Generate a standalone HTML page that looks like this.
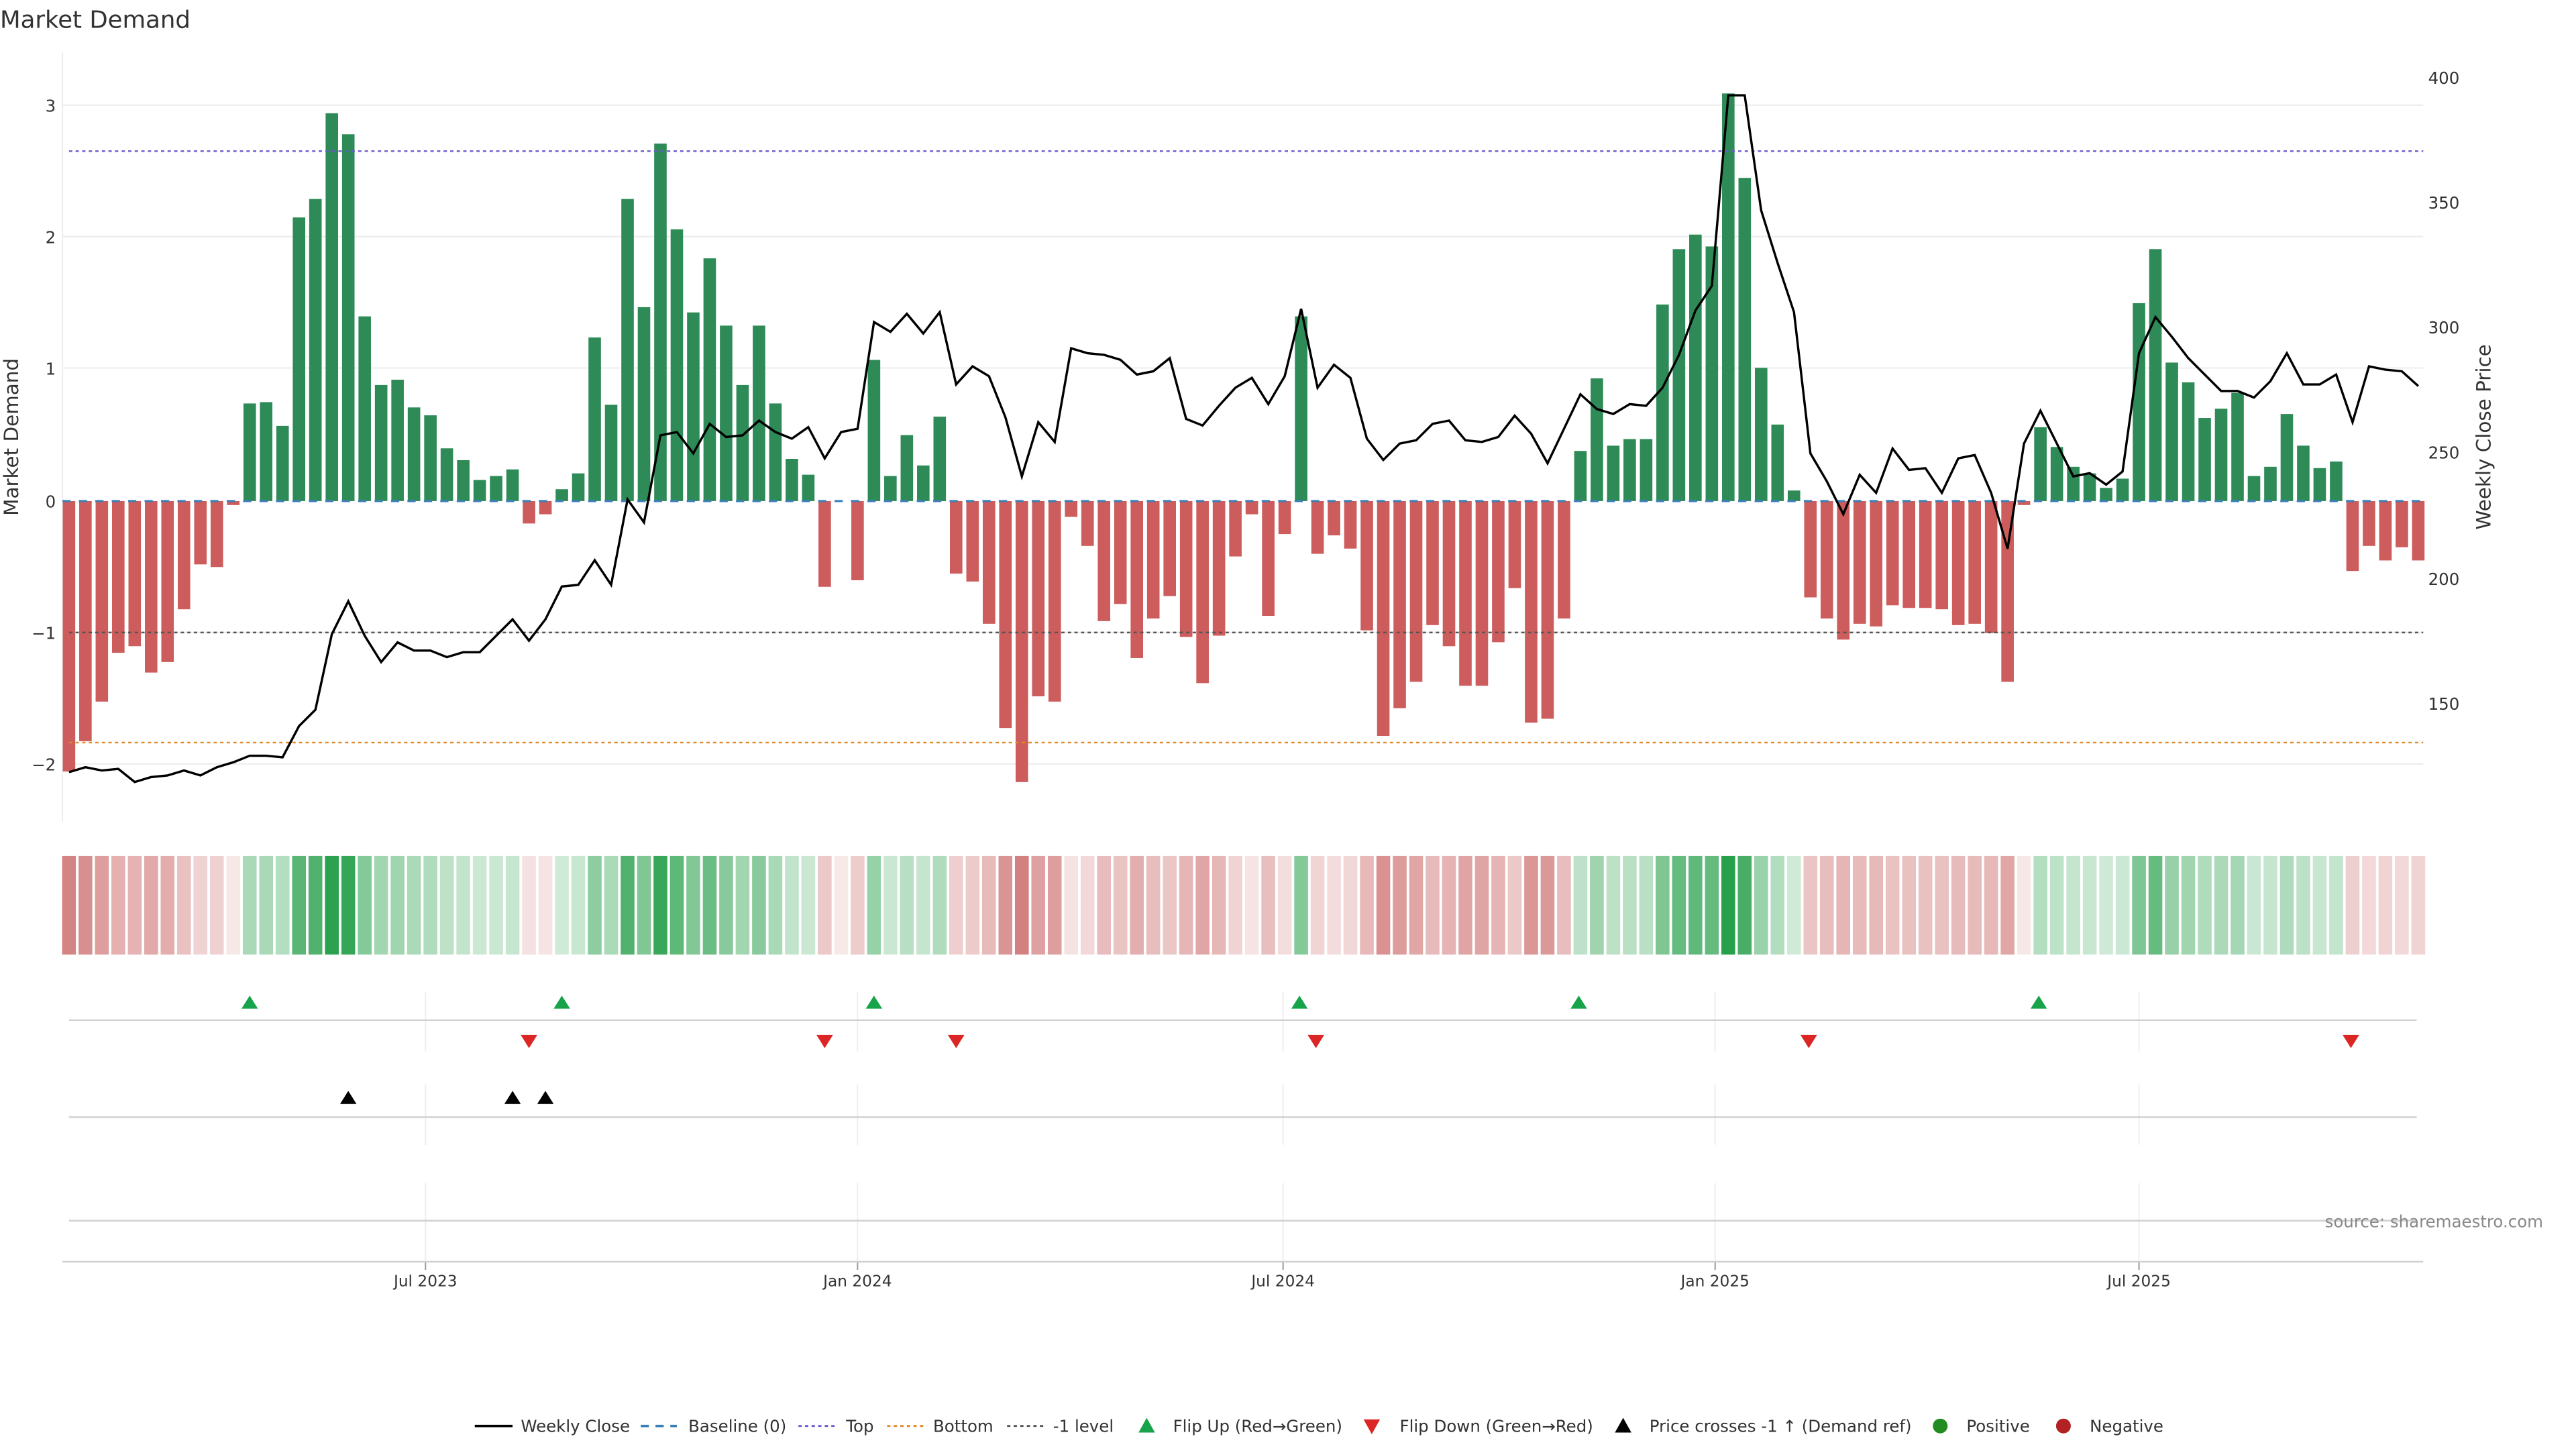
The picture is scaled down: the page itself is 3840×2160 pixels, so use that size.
<!DOCTYPE html>
<html><head><meta charset="utf-8"><style>
html,body{margin:0;padding:0;background:#fff;}
svg{display:block;font-family:"DejaVu Sans","Liberation Sans",sans-serif;}
</style></head><body>
<svg id="s" width="3840" height="2160" viewBox="0 0 1568 882" xmlns="http://www.w3.org/2000/svg">
<rect width="1568" height="882" fill="#fff"/>
<text x="0" y="17" font-size="14.5" fill="#333">Market Demand</text>
<g id="grid" stroke="#ececec" stroke-width="0.8">
<line x1="38" x2="1475" y1="64" y2="64"/><line x1="38" x2="1475" y1="144" y2="144"/>
<line x1="38" x2="1475" y1="224" y2="224"/><line x1="38" x2="1475" y1="385" y2="385"/>
<line x1="38" x2="1475" y1="465" y2="465"/>
</g>
<line x1="38" x2="38" y1="32" y2="500" stroke="#eee" stroke-width="0.8"/>
<g font-size="10" fill="#333" text-anchor="end">
<text x="34" y="68">3</text><text x="34" y="148">2</text><text x="34" y="228">1</text>
<text x="34" y="309">0</text><text x="34" y="389">−1</text><text x="34" y="469">−2</text>
</g>
<g font-size="10" fill="#333">
<text x="1478" y="51">400</text><text x="1478" y="127">350</text><text x="1478" y="203">300</text>
<text x="1478" y="279">250</text><text x="1478" y="356">200</text><text x="1478" y="432">150</text>
</g>
<text transform="translate(11,266) rotate(-90)" font-size="12" fill="#333" text-anchor="middle">Market Demand</text>
<text transform="translate(1516,266) rotate(-90)" font-size="12" fill="#333" text-anchor="middle">Weekly Close Price</text>
<g id="bars"></g>
<line x1="38" x2="1475" y1="305" y2="305" stroke="#3a7fb8" stroke-width="1.3" stroke-dasharray="5,5"/>
<line x1="42" x2="1475" y1="92" y2="92" stroke="#6a5acd" stroke-width="1" stroke-dasharray="2,2"/>
<line x1="42" x2="1475" y1="452" y2="452" stroke="#e08a2c" stroke-width="1" stroke-dasharray="2,2"/>
<line x1="42" x2="1475" y1="385" y2="385" stroke="#555" stroke-width="1" stroke-dasharray="2,2"/>
<polyline id="price" fill="none" stroke="#000" stroke-width="1.4"/>
<g id="heat"></g>
<g stroke="#eee" stroke-width="0.8" id="vg"></g>
<g stroke="#d0d0d0" stroke-width="1">
<line x1="42" x2="1471" y1="621" y2="621"/><line x1="42" x2="1471" y1="680" y2="680"/>
<line x1="42" x2="1471" y1="743" y2="743"/><line x1="38" x2="1475" y1="768" y2="768"/>
</g>
<g id="marks"></g>
<g font-size="9.5" fill="#333" text-anchor="middle">
<text x="259" y="783">Jul 2023</text><text x="522" y="783">Jan 2024</text><text x="781" y="783">Jul 2024</text>
<text x="1044" y="783">Jan 2025</text><text x="1302" y="783">Jul 2025</text>
</g>
<text x="1548" y="747" font-size="10" fill="#888" text-anchor="end">source: sharemaestro.com</text>
<g font-size="10" fill="#333">
<line x1="289" x2="312" y1="868" y2="868" stroke="#000" stroke-width="1.5"/><text x="317" y="871.5">Weekly Close</text>
<line x1="390" x2="412" y1="868" y2="868" stroke="#3a7fb8" stroke-width="1.5" stroke-dasharray="5,4"/><text x="419" y="871.5">Baseline (0)</text>
<line x1="486" x2="508" y1="868" y2="868" stroke="#6a5acd" stroke-width="1.2" stroke-dasharray="2,2"/><text x="515" y="871.5">Top</text>
<line x1="540" x2="562" y1="868" y2="868" stroke="#e08a2c" stroke-width="1.2" stroke-dasharray="2,2"/><text x="568" y="871.5">Bottom</text>
<line x1="613" x2="635" y1="868" y2="868" stroke="#555" stroke-width="1.2" stroke-dasharray="2,2"/><text x="641" y="871.5">-1 level</text>
<polygon points="693,872 703,872 698,863" fill="#16a34a"/><text x="714" y="871.5">Flip Up (Red→Green)</text>
<polygon points="830,864 840,864 835,873" fill="#dc2626"/><text x="852" y="871.5">Flip Down (Green→Red)</text>
<polygon points="983,872 993,872 988,863" fill="#000"/><text x="1004" y="871.5">Price crosses -1 ↑ (Demand ref)</text>
<circle cx="1181" cy="868" r="4.5" fill="#228b22"/><text x="1197" y="871.5">Positive</text>
<circle cx="1256" cy="868" r="4.5" fill="#b22222"/><text x="1272" y="871.5">Negative</text>
</g>
</svg>
<script>
var v=[-2.05,-1.82,-1.52,-1.15,-1.1,-1.3,-1.22,-0.82,-0.48,-0.5,-0.03,0.74,0.75,0.57,2.15,2.29,2.94,2.78,1.4,0.88,0.92,0.71,0.65,0.4,0.31,0.16,0.19,0.24,-0.17,-0.1,0.09,0.21,1.24,0.73,2.29,1.47,2.71,2.06,1.43,1.84,1.33,0.88,1.33,0.74,0.32,0.2,-0.65,0,-0.6,1.07,0.19,0.5,0.27,0.64,-0.55,-0.61,-0.93,-1.72,-2.13,-1.48,-1.52,-0.12,-0.34,-0.91,-0.78,-1.19,-0.89,-0.72,-1.03,-1.38,-1.02,-0.42,-0.1,-0.87,-0.25,1.4,-0.4,-0.26,-0.36,-0.98,-1.78,-1.57,-1.37,-0.94,-1.1,-1.4,-1.4,-1.07,-0.66,-1.68,-1.65,-0.89,0.38,0.93,0.42,0.47,0.47,1.49,1.91,2.02,1.93,3.09,2.45,1.01,0.58,0.08,-0.73,-0.89,-1.05,-0.93,-0.95,-0.79,-0.81,-0.81,-0.82,-0.94,-0.93,-1.0,-1.37,-0.03,0.56,0.41,0.26,0.21,0.1,0.17,1.5,1.91,1.05,0.9,0.63,0.7,0.82,0.19,0.26,0.66,0.42,0.25,0.3,-0.53,-0.34,-0.45,-0.35,-0.45];
var p=[470,467,469,468,476,473,472,469,472,467,464,460,460,461,442,432,386,366,387,403,391,396,396,400,397,397,387,377,390,377,357,356,341,356,304,318,265,263,276,258,266,265,256,263,267,260,279,263,261,196,202,191,203,190,234,223,229,254,290,257,269,212,215,216,219,228,226,218,255,259,247,236,230,246,229,188,236,222,230,267,280,270,268,258,256,268,269,266,253,264,282,261,240,249,252,246,247,236,216,189,174,58,58,128,160,190,276,293,313,289,300,273,286,285,300,279,277,300,334,270,250,270,290,288,295,287,215,193,205,218,228,238,238,242,232,215,234,234,228,257,223,225,226,235];
var NS="http://www.w3.org/2000/svg";
function el(t,a,par){var e=document.createElementNS(NS,t);for(var k in a)e.setAttribute(k,a[k]);document.getElementById(par).appendChild(e);return e;}
var pts=[];
for(var i=0;i<v.length;i++){
 var x=42+i*10.0, y0=305, y=305-v[i]*80.3;
 if(v[i]!==0) el("rect",{x:x-3.8,y:Math.min(y,y0),width:7.6,height:Math.abs(y-y0),fill:v[i]>0?"#2e8b57":"#cd5c5c"},"bars");
 var a=Math.min(Math.abs(v[i])/3,1), t=0.2+0.8*a, r,g,b;
 if(v[i]>0){r=Math.round(255+(40-255)*t);g=Math.round(255+(160-255)*t);b=Math.round(255+(75-255)*t);}
 else{t=0.15+0.75*Math.min(Math.abs(v[i])/2.2,1);r=Math.round(255+(205-255)*t);g=Math.round(255+(110-255)*t);b=Math.round(255+(110-255)*t);}
 el("rect",{x:x-4.2,y:521,width:8.4,height:60,fill:"rgb("+r+","+g+","+b+")"},"heat");
 pts.push(x+","+p[i]);
}
document.getElementById("price").setAttribute("points",pts.join(" "));
[259,522,781,1044,1302].forEach(function(x){
 el("line",{x1:x,x2:x,y1:604,y2:640},"vg");el("line",{x1:x,x2:x,y1:660,y2:697},"vg");el("line",{x1:x,x2:x,y1:720,y2:768},"vg");
 el("line",{x1:x,x2:x,y1:768,y2:773,stroke:"#999"},"vg");
});
[152,342,532,791,961,1241].forEach(function(x){el("polygon",{points:(x-5)+",614 "+(x+5)+",614 "+x+",606",fill:"#16a34a"},"marks");});
[322,502,582,801,1101,1431].forEach(function(x){el("polygon",{points:(x-5)+",630 "+(x+5)+",630 "+x+",638",fill:"#dc2626"},"marks");});
[212,312,332].forEach(function(x){el("polygon",{points:(x-5)+",672 "+(x+5)+",672 "+x+",664",fill:"#000"},"marks");});
</script>
</body></html>
